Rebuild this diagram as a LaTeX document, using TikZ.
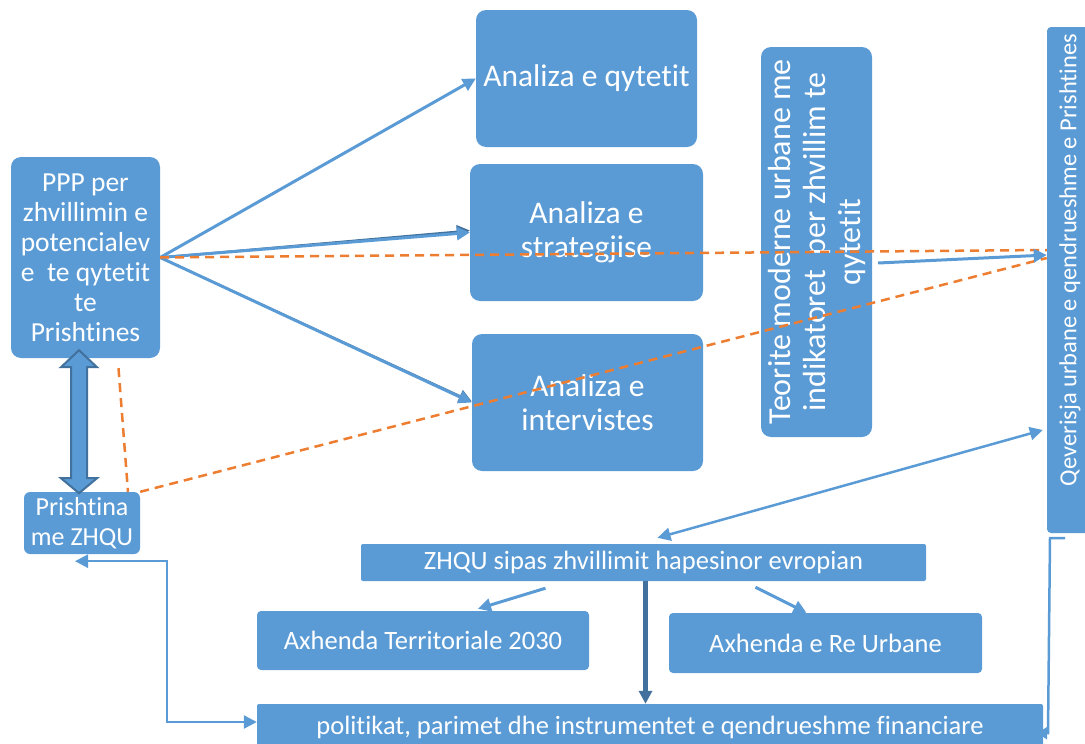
\documentclass[tikz,border=0pt]{standalone}
\usepackage{fontspec}
\setmainfont{Carlito}[Ligatures=NoCommon]
\usetikzlibrary{positioning, calc, arrows.meta}
\definecolor{boxblue}{HTML}{5B9BD5}
\definecolor{edgeblue}{HTML}{41719C}
\definecolor{dashorange}{HTML}{ED7D31}
\tikzstyle{topic} = [rectangle, rounded corners=10pt,
text=white,
align=center,
inner sep=0pt,
fill=boxblue]
\tikzstyle{strip} = [rectangle, rounded corners=2pt,
text=white,
align=center,
inner sep=0pt,
fill=boxblue,
font=\fontsize{26.5}{30}\selectfont]
\tikzstyle{fat} = [fill=boxblue, draw=edgeblue, line width=2pt, line join=miter]
\tikzstyle{arrow} = [line width=3pt, boxblue, -{Triangle[length=13pt,width=13pt]}]
\tikzstyle{twoway} = [line width=2.5pt, boxblue, {Triangle[length=13pt,width=13pt]}-{Triangle[length=13pt,width=13pt]}]
\tikzstyle{link} = [line width=2.5pt, dashorange, dash pattern=on 9pt off 6pt]

\begin{document}
\begin{tikzpicture}[x=1pt, y=-1pt, node distance=154pt]
    \useasboundingbox (0,0) rectangle (1085,744);
    \node (ppp) [topic, minimum width=149pt, minimum height=201pt, font=\fontsize{27.5}{30}\selectfont] at (85.5,257.5) {PPP per\\zhvillimin e\\potencialev\\e~ te qytetit\\te\\Prishtines};
    \node (prz) [topic, rounded corners=6pt, minimum width=116pt, minimum height=62pt, font=\fontsize{26}{30}\selectfont] at (82,523) {Prishtina\\me ZHQU};
    \node (city) [topic, minimum width=221pt, minimum height=137pt, font=\fontsize{31.5}{34}\selectfont] at (586.5,78.5) {Analiza e qytetit};
    \node (strat) [topic, minimum width=233pt, minimum height=137pt, font=\fontsize{31.5}{34}\selectfont, below of=city] {Analiza e\\strategjise};
    \node (inter) [topic, minimum width=231pt, minimum height=137pt, font=\fontsize{31.5}{34}\selectfont, below of=strat, xshift=1pt, yshift=-16pt] {Analiza e\\intervistes};
    \node (teo) [topic, rotate=90, minimum width=390pt, minimum height=111pt, font=\fontsize{32}{35}\selectfont] at (816.5,242) {Teorite moderne urbane me\\indikatoret~ per zhvillim te\\qytetit};
    \node (qev) [topic, rounded corners=4pt, rotate=90, minimum width=506pt, minimum height=46pt, font=\fontsize{24.5}{28}\selectfont] at (1070,280) {\hspace*{40pt}Qeverisja urbane e qendrueshme e Prishtines};
    \node (zs) [strip, minimum width=565pt, minimum height=37pt] at (643.5,562.5) {ZHQU sipas zhvillimit hapesinor evropian};
    \node (terr) [strip, rounded corners=4pt, minimum width=332pt, minimum height=59pt] at (423,640.5) {Axhenda Territoriale 2030};
    \node (urb) [strip, rounded corners=4pt, minimum width=313pt, minimum height=60pt] at (825.5,643) {Axhenda e Re Urbane};
    \node (pol) [strip, minimum width=786pt, minimum height=46pt] at (650,727) {politikat, parimet dhe instrumentet e qendrueshme financiare};
    \coordinate (przfoot) at ($(prz.south)+(-7,7)$);

    % fat two-way arrow PPP <-> Prishtina
    \draw [fat] ($(ppp.south)+(-6.5,-8)$) -- ++(18,17) -- ++(-10,0) -- ++(0,111) -- ++(10,0) -- ++(-18,15)
        -- ++(-18,-15) -- ++(10,0) -- ++(0,-111) -- ++(-10,0) -- cycle;

    \draw [arrow] (ppp.east) -- (city.west);
    \draw [arrow, edgeblue, line width=2pt] (ppp.east) -- ([yshift=2pt]strat.west);
    \draw [arrow] (ppp.east) -- (strat.west);
    \draw [arrow, edgeblue, line width=2pt] (ppp.east) -- ([yshift=1pt]inter.west);
    \draw [arrow] (ppp.east) -- (inter.west);
    \draw [link] (ppp.east) -- ($(qev.north)+(0,-30)$);
    \draw [link] (prz.north east) -- ($(qev.north)+(0,-22)$);
    \draw [link] ($(ppp.south)+(33,10)$) -- ($(prz.north)+(46,0)$);
    \draw [arrow] ($(teo.south)+(6,21)$) -- ($(qev.north)+(0,-25)$);
    \draw [twoway] ($(zs.north)+(14,-6)$) -- ($(qev.north)+(-4,150)$);
    \draw [arrow] ($(zs.south)+(-98,7)$) -- ($(terr.north)+(55,-2)$);
    \draw [arrow] ($(zs.south)+(112,6)$) -- ($(urb.north)+(-19,0)$);
    \draw [arrow, edgeblue, line width=4.5pt] ([xshift=2pt]zs.south) -- ([xshift=2pt]zs.south |- pol.north);
    \draw [twoway] ([yshift=5pt]pol.west) -- ++(-90,0) |- (przfoot);
    \draw [arrow, line width=2.5pt, -{Triangle[length=10pt,width=12pt]}] ($(qev.west)+(-5,5)$) -- ++(-15,0) -- ++(-2,195)
        -- ([xshift=-6pt,yshift=-6pt]pol.east);
\end{tikzpicture}
\end{document}
